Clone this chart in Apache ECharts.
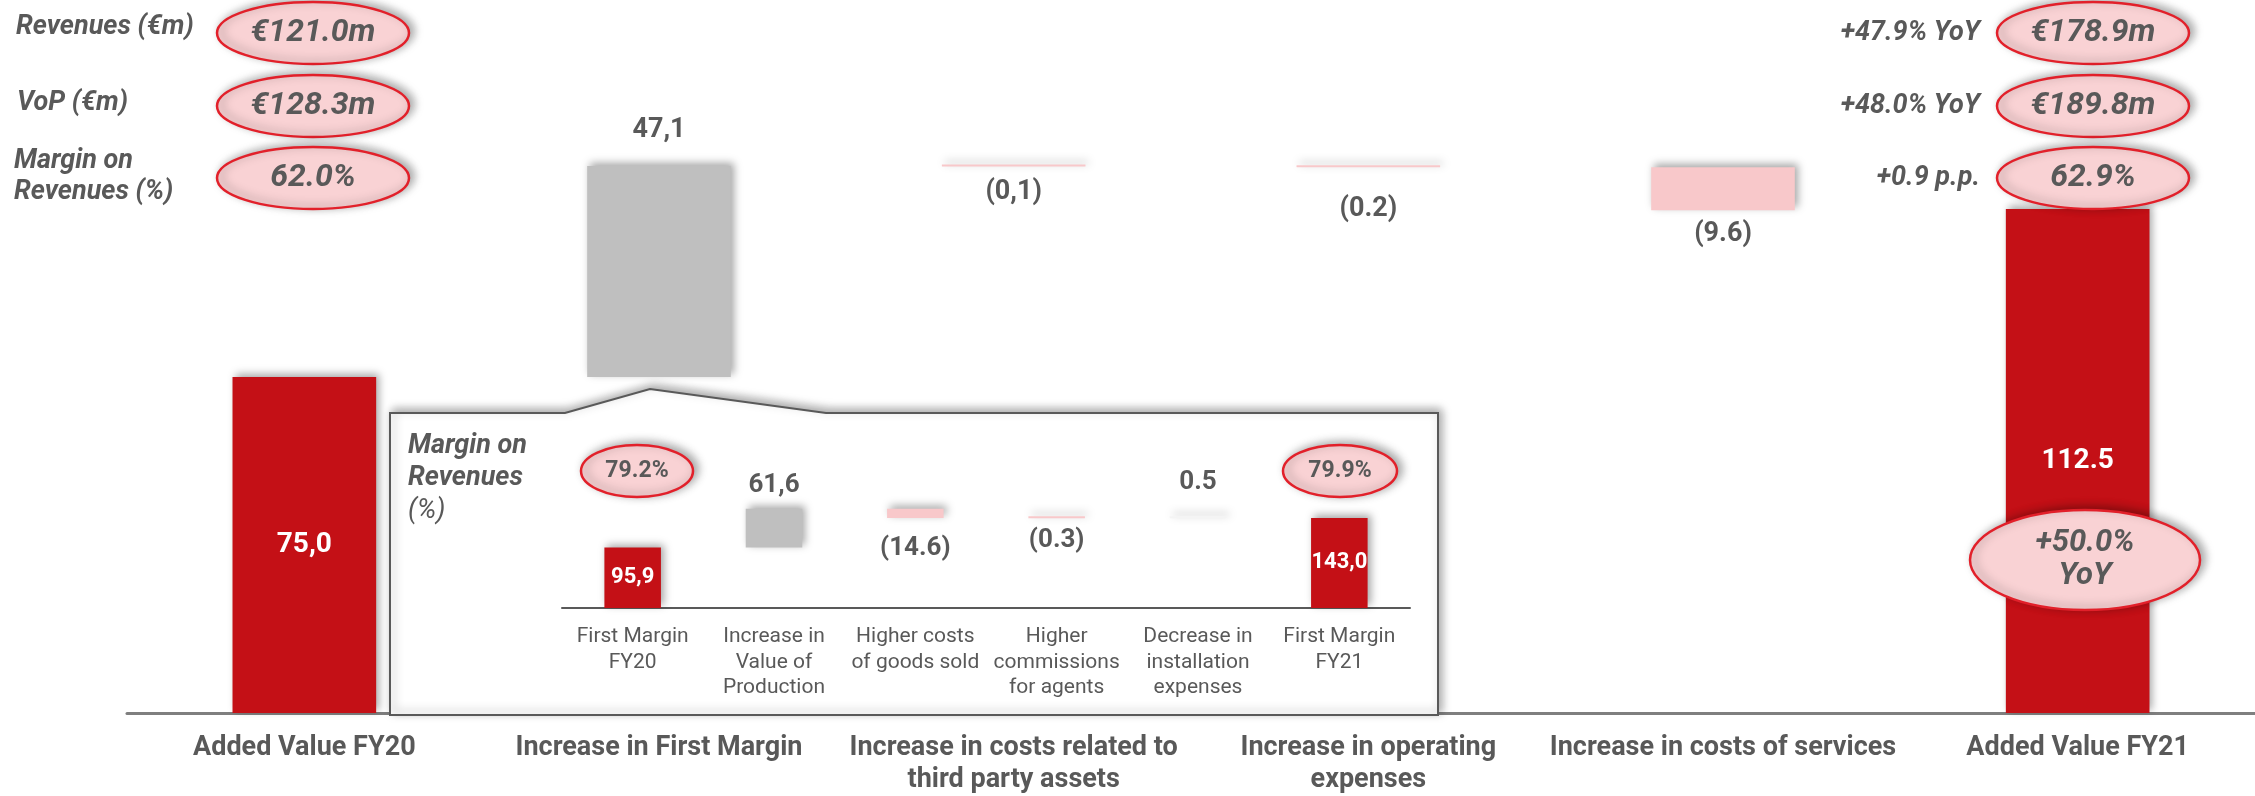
<!DOCTYPE html>
<html><head><meta charset="utf-8">
<script src="https://cdn.jsdelivr.net/npm/echarts@6/dist/echarts.min.js"></script>
<style>html,body{margin:0;padding:0;background:#fff}#c{width:2255px;height:796px}</style>
</head><body><div id="c"></div>
<script>
const mainCategories = ['Added Value FY20','Increase in First Margin','Increase in costs related to\nthird party assets','Increase in operating\nexpenses','Increase in costs of services','Added Value FY21'];
const mainValues = [75.0, 47.1, -0.1, -0.2, -9.6, 112.5];
const mainLabels = ['75,0','47,1','(0,1)','(0.2)','(9.6)','112.5'];

const insetCategories = ['First Margin\nFY20','Increase in\nValue of\nProduction','Higher costs\nof goods sold','Higher\ncommissions\nfor agents','Decrease in\ninstallation\nexpenses','First Margin\nFY21'];
const insetValues = [95.9, 61.6, -14.6, -0.3, 0.5, 143.0];
const insetLabels = ['95,9','61,6','(14.6)','(0.3)','0.5','143,0'];

const kpiLeftTitles = ['Revenues (€m)','VoP (€m)','Margin on\nRevenues (%)'];
const kpiFY20 = ['€121.0m','€128.3m','62.0%'];
const kpiDelta = ['+47.9% YoY','+48.0% YoY','+0.9 p.p.'];
const kpiFY21 = ['€178.9m','€189.8m','62.9%'];
const insetMargins = ['79.2%','79.9%'];
const addedValueGrowth = '+50.0%\nYoY';

const RED='#c41016', GRAY='#bfbfbf', PINK='#f8c8ca', TXT='#595959';

function waterfall(values){
  let run=0; const base=[], h=[], kind=[];
  values.forEach((v,i)=>{
    if(i===0||i===values.length-1){base.push(0);h.push(v);kind.push('total');run=v;}
    else if(v>=0){base.push(run);h.push(v);kind.push('up');run+=v;}
    else {run+=v;base.push(run);h.push(-v);kind.push('down');}
  });
  return {base,h,kind};
}
const shadow={shadowBlur:8,shadowColor:'rgba(0,0,0,0.35)',shadowOffsetX:3,shadowOffsetY:-3};
function items(wf, labels, labelCfg, colorOverride){
  return wf.h.map((v,i)=>{
    const k=wf.kind[i];
    let color = k==='total'?RED:(k==='up'?GRAY:PINK);
    if(colorOverride && colorOverride[i]) color=colorOverride[i];
    return {value:v,itemStyle:Object.assign({color},shadow),label:Object.assign({show:true,formatter:()=>labels[i]},labelCfg[i])};
  });
}
const mainWF=waterfall(mainValues), insetWF=waterfall(insetValues);
const lblDark={color:TXT,fontFamily:'Roboto',fontWeight:'bold',fontSize:27};
const lblWhite={color:'#fff',fontFamily:'Roboto',fontWeight:'bold',fontSize:28,position:'inside'};
const mainLabelCfg=[
  lblWhite,
  Object.assign({position:'top',distance:22},lblDark),
  Object.assign({position:'bottom',distance:12},lblDark),
  Object.assign({position:'bottom',distance:28},lblDark),
  Object.assign({position:'bottom',distance:10},lblDark),
  lblWhite
];
const iDark={color:TXT,fontFamily:'Roboto',fontWeight:'bold',fontSize:26};
const iWhite={color:'#fff',fontFamily:'Roboto',fontWeight:'bold',fontSize:22,position:'inside'};
const insetLabelCfg=[
  iWhite,
  Object.assign({position:'top',distance:10},iDark),
  Object.assign({position:'bottom',distance:18},iDark),
  Object.assign({position:'bottom',distance:9},iDark),
  Object.assign({position:'top',distance:21},iDark),
  iWhite
];

function ellipse(cx,cy,rx,ry,text,font,lh){
  return [
    {type:'ellipse',z:20,shape:{cx,cy,rx,ry},style:{fill:'#f9d2d4',stroke:'#e2202a',lineWidth:2.5,shadowBlur:10,shadowColor:'rgba(0,0,0,0.35)',shadowOffsetX:4,shadowOffsetY:-2}},
    {type:'text',z:21,x:cx,y:cy,style:{text,font,fill:TXT,align:'center',verticalAlign:'middle',lineHeight:lh||34}}
  ];
}
const g=[];
// inset box
g.push({type:'polygon',z:1,shape:{points:[[390,715],[390,413],[565,413],[650,389],[826,413],[1438,413],[1438,715]]},
  style:{fill:'#fff',stroke:'#595959',lineWidth:2,shadowBlur:10,shadowColor:'rgba(0,0,0,0.35)',shadowOffsetX:3,shadowOffsetY:-3}});
// left KPI titles
const bi='italic bold 27px Roboto';
g.push({type:'text',z:20,x:16,y:27,style:{text:kpiLeftTitles[0],font:bi,fill:TXT,verticalAlign:'middle'}});
g.push({type:'text',z:20,x:17,y:103,style:{text:kpiLeftTitles[1],font:bi,fill:TXT,verticalAlign:'middle'}});
g.push({type:'text',z:20,x:14,y:177,style:{text:kpiLeftTitles[2],font:bi,fill:TXT,verticalAlign:'middle',lineHeight:31}});
const ys=[33,106,178];
ys.forEach((y,i)=>{
  g.push(...ellipse(313,y,96,31,kpiFY20[i],'italic bold 32px Roboto'));
  g.push(...ellipse(2093,y,96,31,kpiFY21[i],'italic bold 32px Roboto'));
  g.push({type:'text',z:20,x:1980,y:y,style:{text:kpiDelta[i],font:bi,fill:TXT,align:'right',verticalAlign:'middle'}});
});
g.push(...ellipse(2085,560,115,50,addedValueGrowth,'italic bold 31px Roboto',33));
// inset title
g.push({type:'text',z:20,x:408,y:446,style:{text:'Margin on',font:'italic bold 27px Roboto',fill:TXT,verticalAlign:'middle'}});
g.push({type:'text',z:20,x:408,y:478,style:{text:'Revenues',font:'italic bold 27px Roboto',fill:TXT,verticalAlign:'middle'}});
g.push({type:'text',z:20,x:408,y:511,style:{text:'(%)',font:'italic 27px Roboto',fill:TXT,verticalAlign:'middle'}});
g.push(...ellipse(637,471,56,26,insetMargins[0],'bold 23px Roboto'));
g.push(...ellipse(1340,471,57,26,insetMargins[1],'bold 23px Roboto'));

const option={
  animation:false,
  grid:[
    {left:127,width:2132,top:41,bottom:81},
    {left:562,width:848,top:482,height:126}
  ],
  xAxis:[
    {type:'category',gridIndex:0,data:mainCategories,axisTick:{show:false},
     axisLine:{lineStyle:{color:'#7f7f7f',width:3}},
     axisLabel:{color:TXT,fontFamily:'Roboto',fontWeight:'bold',fontSize:27,lineHeight:32,margin:19,interval:0},z:0},
    {type:'category',gridIndex:1,data:insetCategories,axisTick:{show:false},
     axisLine:{lineStyle:{color:'#595959',width:2}},
     axisLabel:{color:TXT,fontFamily:'Roboto',fontSize:21,lineHeight:25.5,margin:16,interval:0},z:3}
  ],
  yAxis:[
    {type:'value',gridIndex:0,min:0,max:150,show:false},
    {type:'value',gridIndex:1,min:0,max:200,show:false}
  ],
  series:[
    {type:'bar',xAxisIndex:0,yAxisIndex:0,stack:'m',data:mainWF.base,itemStyle:{color:'transparent'},silent:true,barWidth:'40.5%'},
    {type:'bar',xAxisIndex:0,yAxisIndex:0,stack:'m',data:items(mainWF,mainLabels,mainLabelCfg),barMinHeight:2,barWidth:'40.5%'},
    {type:'bar',xAxisIndex:1,yAxisIndex:1,stack:'i',z:5,data:insetWF.base,itemStyle:{color:'transparent'},silent:true,barWidth:'40%'},
    {type:'bar',xAxisIndex:1,yAxisIndex:1,stack:'i',z:5,data:items(insetWF,insetLabels,insetLabelCfg,{4:'#f4f4f4'}),barMinHeight:2,barWidth:'40%'}
  ],
  graphic:g
};
const chart=echarts.init(document.getElementById('c'));
chart.setOption(option);
</script></body></html>
